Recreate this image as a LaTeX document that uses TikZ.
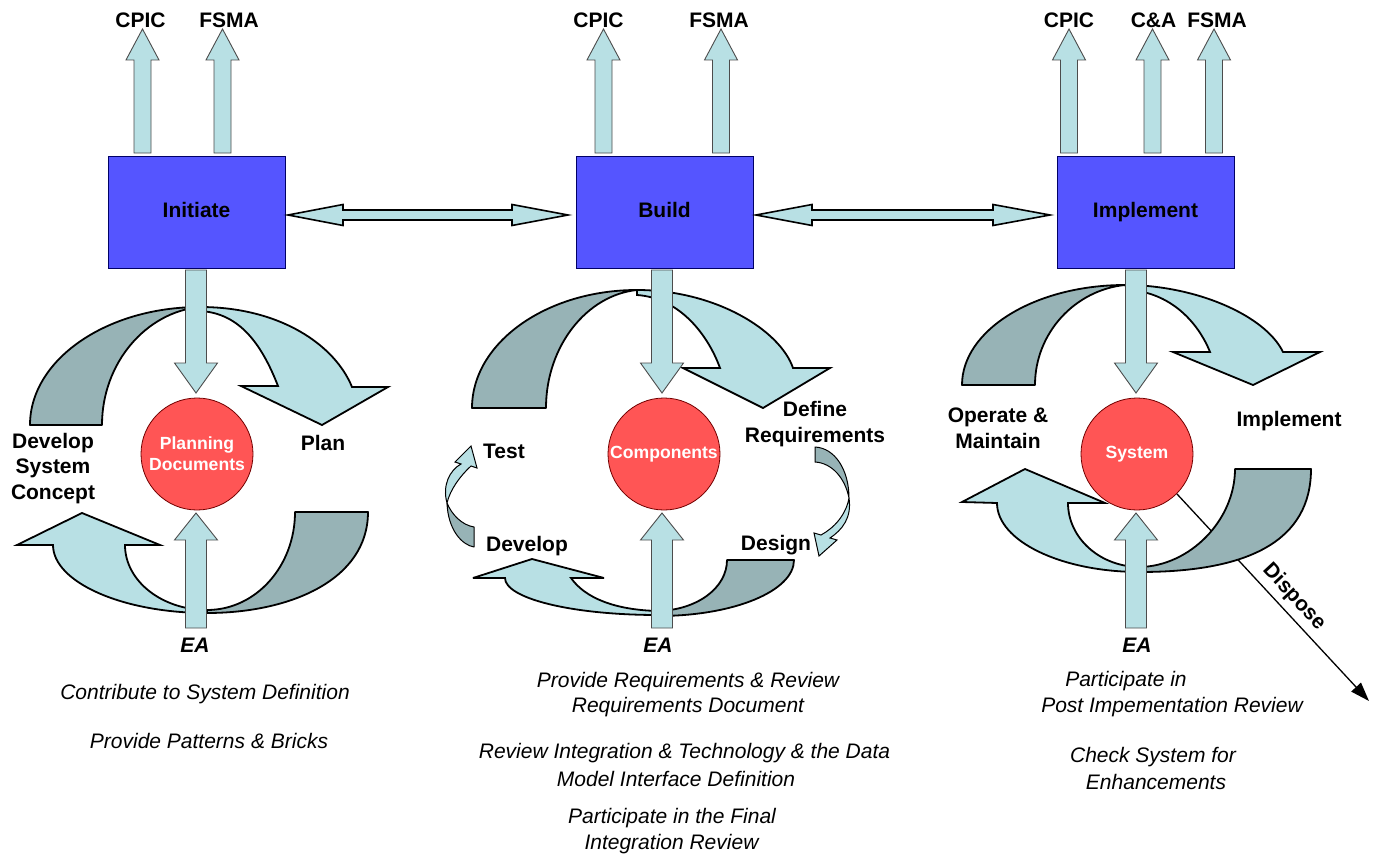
\documentclass[tikz,border=0pt]{standalone}
\usepackage{fontspec}
\setmainfont{Liberation Sans}
\usetikzlibrary{arrows.meta}
\definecolor{ltc}{RGB}{184,224,228}
\definecolor{dkc}{RGB}{151,179,182}
\definecolor{boxc}{RGB}{85,85,255}
\definecolor{redc}{RGB}{255,85,85}
\newcommand\lblfont{\fontsize{21}{25.5}\selectfont\bfseries}
\newcommand\txtfont{\fontsize{21}{25}\selectfont\itshape}
\newcommand\circfont{\fontsize{17.6}{21}\selectfont\bfseries}
% vertical block arrow: x, tail y, head-base y, tip y, shaft half, head half, style
\newcommand\vblk[7]{\filldraw[#7] ({#1-#5},#2) -- ({#1-#5},#3) -- ({#1-#6},#3) -- (#1,#4) -- ({#1+#6},#3) -- ({#1+#5},#3) -- ({#1+#5},#2) -- cycle;}
% horizontal double block arrow: left tip x, left base x, right base x, right tip x, y, shaft half, head half
\newcommand\hdbl[7]{\filldraw[ha] (#1,#5) -- (#2,{#5-#7}) -- (#2,{#5-#6}) -- (#3,{#5-#6}) -- (#3,{#5-#7}) -- (#4,#5) -- (#3,{#5+#7}) -- (#3,{#5+#6}) -- (#2,{#5+#6}) -- (#2,{#5+#7}) -- cycle;}
\pgfdeclarelayer{back}
\pgfdeclarelayer{disp}
\pgfdeclarelayer{under}
\pgfsetlayers{back,disp,under,main}
\begin{document}
\begin{tikzpicture}[x=1pt,y=-1pt,
 lt/.style={fill=ltc,draw=black,line width=1.8pt,line join=miter,miter limit=6},
 dk/.style={fill=dkc,draw=black,line width=1.8pt,line join=round},
 sa/.style={fill=ltc,draw=black!70,line width=0.9pt},
 ha/.style={fill=ltc,draw=black,line width=1.6pt},
 phase/.style={draw=blue!40!black,line width=0.8pt,fill=boxc,minimum width=177pt,minimum height=112pt,inner sep=0pt,text height=15pt,text depth=4.5pt,font=\lblfont},
 hub/.style={circle,draw=red!45!black,line width=0.8pt,fill=redc,minimum size=112pt,inner sep=0pt,text=white,font=\circfont,align=center},
 lbl/.style={font=\lblfont,align=center,inner sep=0pt},
 itx/.style={font=\txtfont,inner sep=0pt,align=center}]
\useasboundingbox (0,0) rectangle (1377,859);
\begin{pgfonlayer}{back}
\fill[white] (0,0) rectangle (1377,859);
\end{pgfonlayer}

% ---------- phase boxes ----------
\node[phase] (init) at (196.5,212.5) {Initiate};
\node[phase] (build) at (664.5,212.5) {Build};
\node[phase] (impl) at (1145.5,212.5) {Implement};

% ---------- top outputs ----------
\node[lbl] (cpic1) at (140.5,20) {CPIC};
\node[lbl] (fsma1) at (229,20) {FSMA};
\node[lbl] (cpic2) at (598.5,20) {CPIC};
\node[lbl] (fsma2) at (719,20) {FSMA};
\node[lbl] (cpic3) at (1069,20) {CPIC};
\node[lbl] (ca3) at (1153.5,20) {C\&A};
\node[lbl] (fsma3) at (1217,20) {FSMA};
\vblk{142.5}{153}{60}{29}{8.5}{16.5}{sa}
\vblk{222.5}{153}{60}{29}{8.5}{16.5}{sa}
\vblk{603.5}{153}{60}{29}{8.5}{16.5}{sa}
\vblk{721}{153}{60}{29}{8.5}{16.5}{sa}
\vblk{1069}{153}{60}{29}{8.5}{16.5}{sa}
\vblk{1152.5}{153}{60}{29}{8.5}{16.5}{sa}
\vblk{1214}{153}{60}{29}{8.5}{16.5}{sa}

% ---------- links between phases ----------
\hdbl{288}{343}{512}{568}{215}{5}{10.5}
\hdbl{756}{812}{993}{1050}{215}{5}{10.5}

% ---------- hubs ----------
\node[hub] (plan) at (197,454) {Planning\\Documents};
\node[hub] (comp) at (664,454) {Components};
\node[hub] (sys) at (1137,454) {System};

% ---------- dispose ----------
\coordinate (dend) at (1369,701);
\begin{pgfonlayer}{disp}
\draw[line width=1.3pt,-{Triangle[length=19pt,width=13pt]}] (sys.-45) -- (dend);
\end{pgfonlayer}
\node[lbl,rotate=-47] (disp) at (1294,597) {Dispose};

\begin{pgfonlayer}{under}
% ---------- left cycle ----------
\filldraw[dk] (30,425) .. controls (30,360) and (106,307) .. (200,307) .. controls (146,312) and (102,363) .. (102,425) -- cycle;
\filldraw[lt] (200,307) .. controls (280,307) and (335,345) .. (352,387) -- (388,387) -- (322,425) -- (241,386) -- (278,386) .. controls (262,345) and (240,313) .. (200,311) -- cycle;
\filldraw[dk] (295,512) -- (368,512) .. controls (368,580) and (290,613) .. (207,613) -- (207,610) .. controls (256,610) and (295,566) .. (295,512) -- cycle;
\filldraw[lt] (17,545) -- (82,513) -- (160,545) -- (125,545) .. controls (125,581) and (162,610) .. (207,610) -- (207,613) .. controls (122,613) and (53,582) .. (53,545) -- cycle;

% ---------- middle cycle ----------
\filldraw[dk] (472,408) .. controls (472,343) and (546,290) .. (637,290) .. controls (587,295) and (546,346) .. (546,408) -- cycle;
\filldraw[lt] (637,290) .. controls (715,290) and (780,330) .. (793,368) -- (830,368) -- (763,408) -- (683,368) -- (720,368) .. controls (708,335) and (680,298) .. (637,295) -- cycle;
\filldraw[dk] (727,560) -- (794,560) .. controls (794,591) and (734,616) .. (658,616) -- (658,611) .. controls (697,610) and (727,588) .. (727,560) -- cycle;
\filldraw[lt] (473,578) -- (532,559) -- (604,578) -- (571,578) .. controls (585,598) and (615,610) .. (658,611) -- (658,615) .. controls (570,615) and (505,598) .. (505,578) -- cycle;
% small arrows
\filldraw[dk,line width=1pt] (447,503) .. controls (448,530) and (462,545) .. (474,547) -- (474,527) .. controls (462,525) and (452,515) .. (447,503) -- cycle;
\filldraw[lt,line width=1pt] (447,503) .. controls (442,485) and (450,470) .. (461,464) -- (455,462) -- (471,446) -- (477,468) -- (471,466) .. controls (460,476) and (450,490) .. (447,503) -- cycle;
\filldraw[dk,line width=1pt] (815,447) .. controls (835,448) and (849,470) .. (849,498) .. controls (845,478) and (832,463) .. (815,462) -- cycle;
\filldraw[lt,line width=1pt] (849,498) .. controls (852,518) and (842,530) .. (830,538) -- (837,540) -- (819,556) -- (814,533) -- (821,535) .. controls (834,528) and (846,515) .. (849,498) -- cycle;

% ---------- right cycle ----------
\filldraw[dk] (962,385) .. controls (962,330) and (1035,285) .. (1125,285) .. controls (1075,290) and (1035,333) .. (1035,385) -- cycle;
\filldraw[lt] (1125,285) .. controls (1195,285) and (1265,315) .. (1283,352) -- (1320,352) -- (1253,385) -- (1173,352) -- (1210,352) .. controls (1198,322) and (1170,292) .. (1128,290) -- cycle;
\filldraw[dk] (1235,469) -- (1311,469) .. controls (1311,540) and (1250,572) .. (1140,572) -- (1140,567) .. controls (1190,566) and (1235,520) .. (1235,469) -- cycle;
\filldraw[lt] (962,502) -- (1025,469) -- (1105,503) -- (1068,503) .. controls (1068,538) and (1100,567) .. (1140,567) -- (1140,572) .. controls (1061,572) and (997,541) .. (997,503) -- cycle;

% ---------- EA arrows in / out of hubs ----------
\vblk{196}{270}{363}{393}{10.5}{21.5}{sa}
\vblk{196}{628}{540}{513}{10.5}{21.5}{sa}
\vblk{662}{270}{363}{393}{10.5}{21.5}{sa}
\vblk{662}{628}{540}{513}{10.5}{21.5}{sa}
\vblk{1136}{270}{363}{393}{10.5}{21.5}{sa}
\vblk{1136}{628}{540}{513}{10.5}{21.5}{sa}
\end{pgfonlayer}

% ---------- cycle labels ----------
\node[lbl] (dsc) at (53,468.5) {Develop\\System\\Concept};
\node[lbl] (pl) at (323,443) {Plan};
\node[lbl] (tst) at (504,451) {Test};
\node[lbl] (dev) at (527,546) {Develop};
\node[lbl] (dr) at (815,424) {Define\\Requirements};
\node[lbl] (dsg) at (776,545) {Design};
\node[lbl] (om) at (998,428.5) {Operate \&\\Maintain};
\node[lbl] (imp) at (1289,421) {Implement};

% ---------- EA ----------
\node[lbl,font=\lblfont\itshape] (ea1) at (195,645) {EA};
\node[lbl,font=\lblfont\itshape] (ea2) at (658,645) {EA};
\node[lbl,font=\lblfont\itshape] (ea3) at (1137,645) {EA};

% ---------- notes ----------
\node[itx] at (205,694) {Contribute to System Definition};
\node[itx] at (209,741) {Provide Patterns \& Bricks};
\node[itx] at (688,682) {Provide Requirements \& Review};
\node[itx] at (688,707) {Requirements Document};
\node[itx] at (684.5,753) {Review Integration \& Technology \& the Data};
\node[itx] at (676,779) {Model Interface Definition};
\node[itx] at (672,818) {Participate in the Final};
\node[itx] at (671.5,844) {Integration Review};
\node[itx] at (1126,681) {Participate in};
\node[itx] at (1172,707) {Post Impementation Review};
\node[itx] at (1153,757) {Check System for};
\node[itx] at (1156,782) {Enhancements};
\end{tikzpicture}
\end{document}
